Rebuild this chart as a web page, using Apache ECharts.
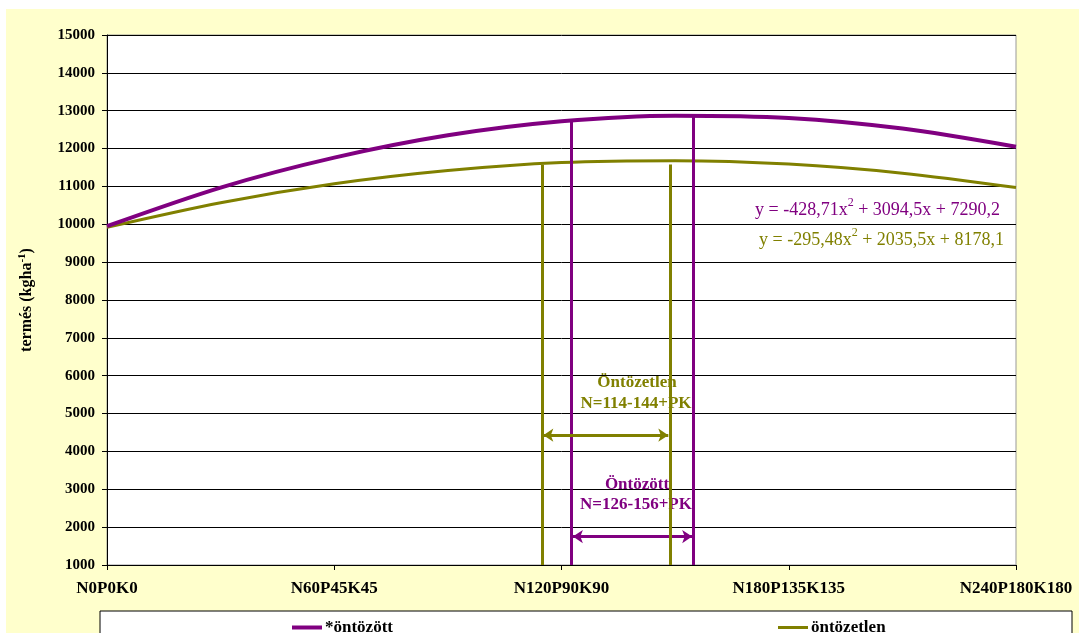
<!DOCTYPE html>
<html>
<head>
<meta charset="utf-8">
<script src="https://cdn.jsdelivr.net/npm/echarts@6/dist/echarts.min.js"></script>
<style>
  html, body { margin: 0; padding: 0; background: #fff; }
  #chart { width: 1079px; height: 633px; }
</style>
</head>
<body>
<div id="chart"></div>
<script>
'use strict';
// kategóriák (x tengely)
var categories = ['N0P0K0', 'N60P45K45', 'N120P90K90', 'N180P135K135', 'N240P180K180'];
// pozíciók fél lépésenként a kategóriák között
var xPos = [0, 0.5, 1, 1.5, 2, 2.5, 3, 3.5, 4];
// leolvasott értékek
var ontozott = [9950, 10970, 11760, 12350, 12720, 12870, 12810, 12530, 12050];
var ontozetlen = [9920, 10570, 11070, 11420, 11630, 11680, 11590, 11350, 10970];
// függőleges jelölések [x, felső érték]
var vOntozetlen = [[1.914, 11570], [2.477, 11580]];
var vOntozott = [[2.044, 12740], [2.578, 12860]];
// nyilak [x1, x2, y]
var arrowOntozetlen = [1.92, 2.47, 4430];
var arrowOntozott = [2.05, 2.575, 1750];

var PURPLE = '#800080', OLIVE = '#808000';
var FONT = '"Liberation Serif", "Times New Roman", serif';

function pairs(xs, ys) {
    var out = [];
    for (var i = 0; i < xs.length; i++) out.push([xs[i], ys[i]]);
    return out;
}
function vLines(list) {
    return list.map(function (p) {
        return [{ coord: [p[0], 1000] }, { coord: [p[0], p[1]] }];
    });
}
function eqRich(color) {
    return {
        a: { fill: color, fontSize: 18, fontFamily: FONT, lineHeight: 26, verticalAlign: 'middle' },
        s: { fill: color, fontSize: 12, fontFamily: FONT, lineHeight: 12, verticalAlign: 'top' }
    };
}

var myChart = echarts.init(document.getElementById('chart'));
var option = {
    backgroundColor: '#fff',
    animation: false,
    textStyle: { fontFamily: FONT },
    graphic: [
        { type: 'rect', z: -10, silent: true, shape: { x: 6, y: 9, width: 1073, height: 624 }, style: { fill: '#FFFFCC' } },
        { type: 'rect', z: -5, silent: true, shape: { x: 100, y: 611, width: 972, height: 40 }, style: { fill: '#fff', stroke: '#000', lineWidth: 1 } },
        { type: 'text', x: 637, y: 383, style: { text: 'Öntözetlen', fill: OLIVE, font: 'bold 17px ' + FONT, align: 'center', verticalAlign: 'middle' } },
        { type: 'text', x: 636, y: 404, style: { text: 'N=114-144+PK', fill: OLIVE, font: 'bold 17px ' + FONT, align: 'center', verticalAlign: 'middle' } },
        { type: 'text', x: 637, y: 485, style: { text: 'Öntözött', fill: PURPLE, font: 'bold 17px ' + FONT, align: 'center', verticalAlign: 'middle' } },
        { type: 'text', x: 636, y: 505, style: { text: 'N=126-156+PK', fill: PURPLE, font: 'bold 17px ' + FONT, align: 'center', verticalAlign: 'middle' } },
        { type: 'text', x: 755, y: 210, style: {
            text: '{a|y = -428,71x}{s|2}{a| + 3094,5x + 7290,2}',
            verticalAlign: 'middle', rich: eqRich(PURPLE)
        } },
        { type: 'text', x: 759, y: 240, style: {
            text: '{a|y = -295,48x}{s|2}{a| + 2035,5x + 8178,1}',
            verticalAlign: 'middle', rich: eqRich(OLIVE)
        } }
    ],
    legend: [
        { data: ['*öntözött'], left: 287, top: 614, icon: 'rect', itemWidth: 30, itemHeight: 4, itemGap: 5,
          textStyle: { fontFamily: FONT, fontWeight: 'bold', fontSize: 17, color: '#000', padding: [0, 0, 0, -2] } },
        { data: ['öntözetlen'], left: 773, top: 614, icon: 'rect', itemWidth: 30, itemHeight: 3,
          textStyle: { fontFamily: FONT, fontWeight: 'bold', fontSize: 17, color: '#000', padding: [0, 0, 0, -2] } }
    ],
    grid: { left: 107, right: 63, top: 35, bottom: 68, show: true, borderColor: '#999', borderWidth: 1, backgroundColor: '#fff' },
    xAxis: {
        type: 'value', min: 0, max: 4, interval: 1,
        axisLine: { lineStyle: { color: '#000' } },
        axisTick: { show: true, length: 5, lineStyle: { color: '#000' } },
        splitLine: { show: false },
        axisLabel: {
            margin: 15, color: '#000', fontWeight: 'bold', fontSize: 17, fontFamily: FONT,
            formatter: function (v) { return categories[Math.round(v)] || ''; }
        }
    },
    yAxis: {
        type: 'value', min: 1000, max: 15000, interval: 1000,
        name: '{b|termés (kgha}{s|-1}{b|)}',
        nameLocation: 'middle', nameRotate: 90, nameGap: 71,
        nameTextStyle: { rich: {
            b: { fontFamily: FONT, fontWeight: 'bold', fontSize: 16, color: '#000' },
            s: { fontFamily: FONT, fontWeight: 'bold', fontSize: 11, color: '#000', verticalAlign: 'top', padding: [0, 0, 8, 0] }
        } },
        axisLine: { show: true, lineStyle: { color: '#000' } },
        axisTick: { show: true, length: 5, lineStyle: { color: '#000' } },
        splitLine: { lineStyle: { color: '#000', width: 1 } },
        axisLabel: {
            margin: 12, color: '#000', fontWeight: 'bold', fontSize: 15, fontFamily: FONT,
            formatter: function (v) { return String(v); }
        }
    },
    series: [
        {
            name: '*öntözött', type: 'line', smooth: 0.3, showSymbol: false, z: 5,
            lineStyle: { color: PURPLE, width: 4 }, itemStyle: { color: PURPLE },
            data: pairs(xPos, ontozott),
            markLine: {
                silent: true, symbol: 'none', label: { show: false },
                lineStyle: { color: PURPLE, width: 3, type: 'solid' },
                data: vLines(vOntozott).concat([
                    [{ coord: [arrowOntozott[0], arrowOntozott[2]], symbol: 'arrow', symbolSize: 10 },
                     { coord: [arrowOntozott[1], arrowOntozott[2]], symbol: 'arrow', symbolSize: 10 }]
                ])
            }
        },
        {
            name: 'öntözetlen', type: 'line', smooth: 0.3, showSymbol: false, z: 4,
            lineStyle: { color: OLIVE, width: 3 }, itemStyle: { color: OLIVE },
            data: pairs(xPos, ontozetlen),
            markLine: {
                silent: true, symbol: 'none', label: { show: false },
                lineStyle: { color: OLIVE, width: 3, type: 'solid' },
                data: vLines(vOntozetlen).concat([
                    [{ coord: [arrowOntozetlen[0], arrowOntozetlen[2]], symbol: 'arrow', symbolSize: 10 },
                     { coord: [arrowOntozetlen[1], arrowOntozetlen[2]], symbol: 'arrow', symbolSize: 10 }]
                ])
            }
        }
    ]
};
myChart.setOption(option);
</script>
</body>
</html>
